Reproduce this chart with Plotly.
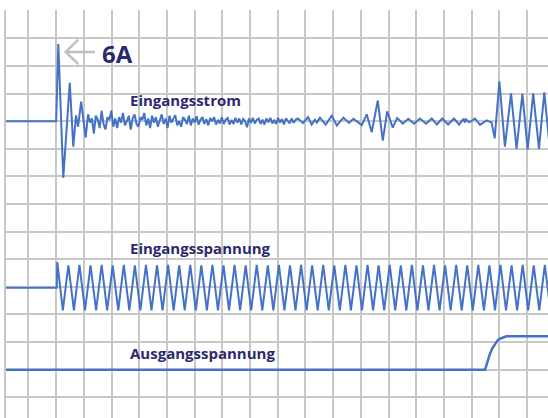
import plotly.graph_objects as go

# ---- data (time in grid divisions, values in grid divisions) ----
t_start = 0.19
t_end = 19.84

# Eingangsstrom (input current): start-up transient, noise, tail
cur_base = 10.0
cur_head_t = [t_start, 2.0, 2.076, 2.256, 2.49, 2.617, 2.715, 2.79, 2.90, 3.065]
cur_head_v = [10.0, 10.0, 12.80, 7.95, 11.39, 9.08, 10.21, 9.80, 10.71, 9.41]

noise_t0 = 3.15
noise_dt = 0.07
cur_noise_dev = [
    0.25, -0.05, 0.10, -0.45, 0.20, 0.05, -0.25, 0.38, -0.10, -0.30,
    0.15, 0.05, 0.38, -0.20, 0.10,
    -0.25, 0.15, -0.05, 0.30, -0.15, 0.00, 0.20, -0.30, 0.10, 0.25,
    -0.10, -0.20, 0.15, 0.05, 0.30, -0.15, 0.10, -0.25, 0.20, -0.05,
    0.15, -0.20, 0.05, 0.25, -0.10, 0.10, -0.25, 0.20, -0.05, 0.10,
    0.22, -0.15, 0.00, -0.20, 0.15, 0.05, -0.10, 0.20, -0.15, 0.10,
    -0.05, 0.18, -0.12, 0.05, 0.15, -0.10, 0.08, -0.15, 0.12, 0.00,
    0.15, -0.12, 0.05, -0.08, 0.14, -0.10, 0.06, 0.12, -0.12, 0.05,
    -0.10, 0.12, -0.05, 0.10, -0.12, 0.08, 0.00, -0.22, 0.10, -0.06,
    0.12, -0.08, 0.05, 0.10, -0.10, 0.06, -0.12, 0.10, -0.04, 0.12,
    -0.08, 0.05, -0.10, 0.12, -0.05, 0.08, -0.12, 0.10, 0.00, -0.08,
    0.10, -0.06, 0.05,
]

cur_tail_t = [10.73, 10.91, 11.09, 11.22, 11.34, 11.41, 11.52, 11.73, 11.95, 12.13,
              12.37, 12.57, 12.73, 13.03, 13.21, 13.39, 13.61, 13.79, 13.95, 14.15,
              14.31, 14.51, 14.71, 14.92, 15.13, 15.35, 15.56, 15.74, 15.94, 16.15,
              16.36, 16.55, 16.70, 16.76, 16.79, 16.91, 17.12, 17.30, 17.54, 17.72,
              17.83, 18.00, 18.20, 18.42, 18.62, 18.83, 19.02, 19.22, 19.43, 19.62,
              19.82]
cur_tail_dev = [0.10, -0.07, 0.15, -0.12, 0.05, -0.05, 0.13, -0.12, 0.20, -0.15,
                0.13, -0.06, 0.09, -0.14, 0.25, -0.40, 0.75, -0.70, 0.36, -0.23,
                0.12, -0.09, 0.09, -0.09, 0.10, -0.09, 0.10, -0.12, 0.10, -0.12,
                0.10, -0.12, 0.09, -0.05, 0.07, -0.04, 0.10, -0.13, 0.03, -0.05,
                -0.62, 1.45, -0.92, 1.01, -1.00, 0.99, -1.02, 1.01, -1.00, 1.05,
                -1.00]

# Eingangsspannung (input voltage)
volt_base = 3.97
volt_t0 = 2.04
volt_dt = 0.2
volt_zig = [
    4.90, 3.15, 4.78, 3.15, 4.80, 3.15, 4.78, 3.15, 4.80, 3.15,
    4.78, 3.15, 4.80, 3.15, 4.78, 3.15, 4.80, 3.15, 4.78, 3.15,
    4.80, 3.15, 4.78, 3.15, 4.80, 3.15, 4.78, 3.15, 4.80, 3.15,
    4.78, 3.15, 4.80, 3.15, 4.78, 3.15, 4.80, 3.15, 4.78, 3.15,
    4.80, 3.15, 4.78, 3.15, 4.80, 3.15, 4.78, 3.15, 4.80, 3.15,
    4.78, 3.15, 4.80, 3.15, 4.78, 3.15, 4.80, 3.15, 4.78, 3.15,
    4.80, 3.15, 4.78, 3.15, 4.80, 3.15, 4.78, 3.15, 4.80, 3.15,
    4.78, 3.15, 4.80, 3.15, 4.78, 3.15, 4.80, 3.15, 4.78, 3.15,
    4.80, 3.15, 4.78, 3.15, 4.80, 3.15, 4.78, 3.15, 4.80, 3.15,
]

# Ausgangsspannung (output voltage)
out_t = [t_start, 17.48, 17.52, 17.58, 17.66, 17.75, 17.84, 17.93, 18.02, 18.14, 18.26, t_end]
out_v = [1.0, 1.0, 1.12, 1.35, 1.58, 1.78, 1.94, 2.05, 2.12, 2.18, 2.21, 2.21]

labels = ["Eingangsstrom", "Eingangsspannung", "Ausgangsspannung"]
label_y = [10.78, 5.42, 1.6]
peak_label = "6A"

# ---- build series ----
cur_t = list(cur_head_t)
cur_v = list(cur_head_v)
for i, d in enumerate(cur_noise_dev):
    cur_t.append(noise_t0 + i * noise_dt)
    cur_v.append(cur_base + d)
for t, d in zip(cur_tail_t, cur_tail_dev):
    cur_t.append(t)
    cur_v.append(cur_base + d)

volt_t = [t_start, 2.02]
volt_v = [volt_base, volt_base]
for i, v in enumerate(volt_zig):
    volt_t.append(volt_t0 + i * volt_dt)
    volt_v.append(v)

blue = "#4472c4"
navy = "#2b2a6e"
grid = "#c8c8c8"

fig = go.Figure()
fig.add_trace(go.Scatter(x=cur_t, y=cur_v, mode="lines", line=dict(color=blue, width=2)))
fig.add_trace(go.Scatter(x=volt_t, y=volt_v, mode="lines", line=dict(color=blue, width=2)))
fig.add_trace(go.Scatter(x=out_t, y=out_v, mode="lines", line=dict(color=blue, width=2.5)))

for txt, y in zip(labels, label_y):
    fig.add_annotation(x=4.60, y=y, text="<b>" + txt + "</b>", showarrow=False,
                       xanchor="left", yanchor="middle",
                       font=dict(family="Open Sans", size=15, color=navy))

fig.add_annotation(x=3.58, y=12.45, text="<b>" + peak_label + "</b>", showarrow=False,
                   xanchor="left", yanchor="middle",
                   font=dict(family="Open Sans", size=24, color=navy))

# grey arrow pointing at the current peak
fig.add_shape(type="path",
              path="M 2.80 12.96 L 2.343 12.51 L 2.80 12.07 M 2.343 12.51 L 3.40 12.51",
              line=dict(color="#bfbfbf", width=2.5))

plot_w = 548 - 6
plot_h = 418 - 10
x0 = 0.188
y_top = 14.03
fig.update_layout(
    width=548, height=418,
    margin=dict(l=6, r=0, t=10, b=0, autoexpand=False),
    paper_bgcolor="white", plot_bgcolor="white",
    showlegend=False,
    xaxis=dict(range=[x0, x0 + plot_w / 27.7], tickmode="array", tickvals=list(range(1, 20)),
               showgrid=True, gridcolor=grid, gridwidth=2, showticklabels=False,
               zeroline=False, showline=False, ticks=""),
    yaxis=dict(range=[y_top - plot_h / 27.6, y_top], tickmode="array", tickvals=list(range(0, 15)),
               showgrid=True, gridcolor=grid, gridwidth=2, showticklabels=False,
               zeroline=False, showline=True, linecolor=grid, linewidth=2, ticks=""),
)

fig.write_html("out.html", config={"displayModeBar": False},
               post_script="document.body.style.margin='0';document.body.style.overflow='hidden';")
